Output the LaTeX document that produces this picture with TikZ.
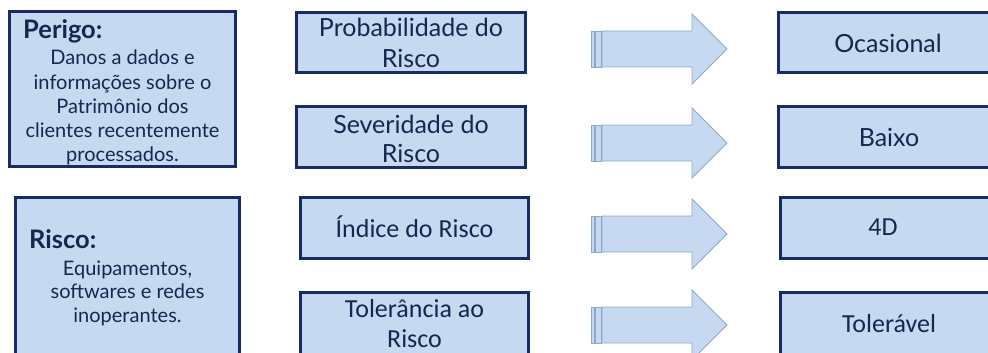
\documentclass[tikz,border=0pt]{standalone}
\usepackage{fontspec}
\setmainfont{Lato}
\newfontfamily\carl{Carlito}
\definecolor{boxfill}{HTML}{C6D9F1}
\definecolor{boxline}{HTML}{172C66}
\definecolor{txt}{HTML}{17264F}
\definecolor{arrline}{HTML}{8DA7CC}
\tikzset{
  boxst/.style={draw=boxline, line width=3pt, fill=boxfill},
  arrst/.style={draw=arrline, line width=0.9pt, fill=boxfill, line join=miter},
  lbody/.style={anchor=base, inner sep=0pt, text=txt, font=\fontsize{20}{24}\selectfont},
  lhead/.style={anchor=base west, inner sep=0pt, text=txt, font=\fontsize{25.5}{30}\selectfont\bfseries},
  mtxt/.style={anchor=base, inner sep=0pt, text=txt, font=\fontsize{25}{30}\selectfont},
  ctxt/.style={anchor=base, inner sep=0pt, text=txt, font=\carl\fontsize{26}{31}\selectfont},
}
\newcommand{\blockarrow}[1]{%
  \path[arrst] (591,#1-18) rectangle (594,#1+18);
  \path[arrst] (595.5,#1-18) rectangle (601,#1+18);
  \path[arrst] (602,#1-18) -- (692,#1-18) -- (692,#1-35) -- (727,#1) --
    (692,#1+35) -- (692,#1+18) -- (602,#1+18) -- cycle;
}
\begin{document}
\begin{tikzpicture}[x=1pt,y=-1pt]
\useasboundingbox (0,0) rectangle (988,353);
% left boxes
\draw[boxst] (9.5,11.5) rectangle (235.5,166.5);
\draw[boxst] (15.5,197.5) rectangle (239.5,360);
\node[lhead] (perigo) at (23,38.5) {Perigo:};
\node[lbody] (p1) at (122.5,65) {Danos a dados e};
\node[lbody] (p2) at (122.5,89) {informações sobre o};
\node[lbody] (p3) at (122.5,113) {Patrimônio dos};
\node[lbody] (p4) at (122.5,137) {clientes recentemente};
\node[lbody] (p5) at (122.5,161) {processados.};
\node[lhead] (risco) at (29,248.3) {Risco:};
\node[lbody] (r1) at (127.5,275.5) {Equipamentos,};
\node[lbody] (r2) at (127.5,298.7) {softwares e redes};
\node[lbody] (r3) at (127.5,322) {inoperantes.};
% middle boxes
\draw[boxst] (296.5,12.5) rectangle (525.5,72.5);
\draw[boxst] (296.5,106.5) rectangle (525.5,167.5);
\draw[boxst] (300.5,197.5) rectangle (528.5,258.5);
\draw[boxst] (300.5,292.5) rectangle (528.5,360);
\node[mtxt] (m1a) at (411,37) {Probabilidade do};
\node[mtxt] (m1b) at (411,67) {Risco};
\node[mtxt] (m2a) at (411,133) {Severidade do};
\node[mtxt] (m2b) at (411,162) {Risco};
\node[ctxt] (m3) at (414.5,237) {Índice do Risco};
\node[ctxt] (m4a) at (414.5,317) {Tolerância ao};
\node[ctxt] (m4b) at (414.5,347) {Risco};
% arrows
\blockarrow{49}
\blockarrow{143}
\blockarrow{234}
\blockarrow{325}
% right boxes
\draw[boxst] (778.5,12.5) rectangle (1000,72.5);
\draw[boxst] (778.5,106.5) rectangle (1000,167.5);
\draw[boxst] (780.5,197.5) rectangle (1000,258.5);
\draw[boxst] (780.5,292.5) rectangle (1000,360);
\node[mtxt] (o1) at (888,52.7) {Ocasional};
\node[mtxt] (o2) at (889,146.7) {Baixo};
\node[ctxt] (o3) at (883,235.5) {4D};
\node[ctxt] (o4) at (889,332) {Tolerável};
\end{tikzpicture}
\end{document}
